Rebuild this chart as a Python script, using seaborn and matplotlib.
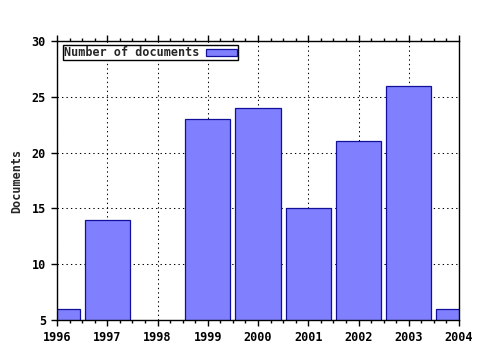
import matplotlib
matplotlib.use("Agg")
import matplotlib.pyplot as plt
import seaborn as sns
import pandas as pd
from matplotlib.ticker import MultipleLocator

years = [1996, 1997, 1998, 1999, 2000, 2001, 2002, 2003, 2004]
documents = [6, 14, 0, 23, 24, 15, 21, 26, 6]
series_name = "Number of documents"
y_label = "Documents"

sns.set_style("white")
plt.rcParams['font.family'] = ['DejaVu Sans Mono', 'DejaVu Sans']
plt.rcParams['font.weight'] = 'bold'

df = pd.DataFrame({"year": years, "docs": documents})

fig = plt.figure(figsize=(4.8, 3.5), dpi=100)
ax = fig.add_axes([57/480, 1-320/350, (459-57)/480, (320-41)/350])
ax.set_axisbelow(True)
ax.grid(True, color="black", linestyle=(0, (1.3, 3)), linewidth=0.75)

sns.barplot(data=df, x="year", y="docs", native_scale=True, width=0.9,
            color="#8080ff", saturation=1, edgecolor="#10109a", linewidth=0.9,
            label=series_name, ax=ax, zorder=2)

ax.set_xlim(1996, 2004)
ax.set_ylim(5, 30)
ax.xaxis.set_major_locator(MultipleLocator(1))
ax.xaxis.set_minor_locator(MultipleLocator(0.25))
ax.yaxis.set_major_locator(MultipleLocator(5))
ax.set_xticks(years)
ax.set_xticklabels([str(y) for y in years])
ax.tick_params(axis="x", which="major", top=True, bottom=True, direction="out",
               length=4, width=1, colors="black", labelsize=8.5, pad=4)
ax.tick_params(axis="x", which="minor", top=True, bottom=True, direction="out",
               length=2.5, width=1, colors="black")
ax.tick_params(axis="y", which="major", left=True, right=False, direction="out",
               length=4, width=1, colors="black", labelsize=8.5, pad=4)
for lab in ax.get_xticklabels() + ax.get_yticklabels():
    lab.set_fontweight("bold")

ax.set_xlabel("")
ax.set_ylabel(y_label, fontsize=8.5, fontweight="bold", labelpad=6)

for s in ax.spines.values():
    s.set_color("black")
    s.set_linewidth(1)
    s.set_visible(True)

leg = ax.legend(loc="upper left", bbox_to_anchor=(0.01, 0.993), markerfirst=False,
                frameon=True, fancybox=False, framealpha=1, edgecolor="black",
                borderpad=0.08, handlelength=2.6, handleheight=0.55, handletextpad=0.55,
                borderaxespad=0.2, prop={"family": "DejaVu Sans Mono", "weight": "bold", "size": 8.5})
leg.get_frame().set_linewidth(1)

fig.savefig("out.png", dpi=100, facecolor="white")
